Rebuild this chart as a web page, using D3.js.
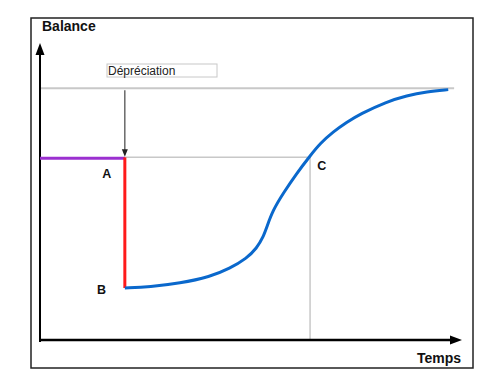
<!DOCTYPE html>
<html>
<head>
<meta charset="utf-8">
<script src="https://cdn.jsdelivr.net/npm/d3@7"></script>
<style>
  body { margin: 0; background: #fff; }
  text { font-family: "Liberation Sans", Arial, Helvetica, sans-serif; }
  .lbl { font-weight: bold; font-size: 12.5px; fill: #111; }
  .axisTitle { font-weight: bold; font-size: 14px; fill: #111; }
</style>
</head>
<body>
<div id="main"></div>
<script>
// values (time, balance)
const curveTime    = [2.02, 2.62, 3.33, 4.05, 4.52, 4.92, 5.16, 5.32, 5.40, 5.55, 5.79, 6.11, 6.43, 6.67, 6.98, 7.30, 7.62, 8.25, 8.73, 9.21, 9.72]
const curveBalance = [1.75, 1.79, 1.91, 2.13, 2.41, 2.75, 3.09, 3.48, 3.81, 4.38, 4.94, 5.61, 6.20, 6.62, 7.01, 7.33, 7.61, 8.02, 8.23, 8.36, 8.43]

const levelMax = 8.48   // top grey line
const levelA = 6.15     // balance before depreciation
const levelB = 1.75     // balance after depreciation
const timeA = 2.02
const timeC = 6.43
const timeEnd = 9.86

const pointLabels = [
  {name: "A", t: 1.48, b: 5.47},
  {name: "B", t: 1.36, b: 1.55},
  {name: "C", t: 6.60, b: 5.72}
]

const W = 488, H = 376

const svg = d3.select('#main').append('svg').attr("width", W).attr("height", H)

const x = d3.scaleLinear().domain([0, 10]).range([40, 460])
const y = d3.scaleLinear().domain([0, 10]).range([340, 43])

// frame
svg.append('rect').attr("x", 31).attr("y", 18).attr("width", 442).attr("height", 350)
  .attr("fill", "none").attr("stroke", "#222").attr("stroke-width", 1.5)

// grey reference lines
svg.append('line').attr("x1", x(0)).attr("x2", x(timeEnd)).attr("y1", y(levelMax)).attr("y2", y(levelMax))
  .attr("stroke", "#c8c8c8").attr("stroke-width", 2)
svg.append('line').attr("x1", x(timeA)).attr("x2", x(timeC)).attr("y1", y(levelA)).attr("y2", y(levelA))
  .attr("stroke", "#c8c8c8").attr("stroke-width", 1.5)
svg.append('line').attr("x1", x(timeC)).attr("x2", x(timeC)).attr("y1", y(levelA)).attr("y2", y(0))
  .attr("stroke", "#c8c8c8").attr("stroke-width", 1.5)

// axes
svg.append('line').attr("x1", x(0)).attr("x2", x(0)).attr("y1", y(0) + 2).attr("y2", y(10) + 10)
  .attr("stroke", "#000").attr("stroke-width", 2)
svg.append('path').attr("d", `M${x(0)},${y(10)} L${x(0) - 4.5},${y(10) + 12} L${x(0) + 4.5},${y(10) + 12}Z`)
  .attr("fill", "#000")
svg.append('line').attr("x1", x(0)).attr("x2", x(10) - 8).attr("y1", y(0)).attr("y2", y(0))
  .attr("stroke", "#000").attr("stroke-width", 2.5)
svg.append('path').attr("d", `M${x(10) + 2},${y(0)} L${x(10) - 10},${y(0) - 4.5} L${x(10) - 10},${y(0) + 4.5}Z`)
  .attr("fill", "#000")

svg.append('text').attr("class", "axisTitle").attr("x", 42).attr("y", 31).text("Balance")
svg.append('text').attr("class", "axisTitle").attr("x", 461).attr("y", 363).attr("text-anchor", "end").text("Temps")

// purple level, red drop
svg.append('line').attr("x1", x(0)).attr("x2", x(timeA)).attr("y1", y(levelA) + 1).attr("y2", y(levelA) + 1)
  .attr("stroke", "#9b30d0").attr("stroke-width", 3)
svg.append('line').attr("x1", x(timeA)).attr("x2", x(timeA)).attr("y1", y(levelA)).attr("y2", y(levelB))
  .attr("stroke", "#ff1a1a").attr("stroke-width", 3)

// blue recovery curve
const pts = curveTime.map((t, i) => [t, curveBalance[i]])
const line = d3.line().x(d => x(d[0])).y(d => y(d[1])).curve(d3.curveBasis)
svg.append('path').attr("d", line(pts)).attr("fill", "none")
  .attr("stroke", "#0a68cc").attr("stroke-width", 3).attr("stroke-linecap", "butt")

// depreciation label + arrow
svg.append('rect').attr("x", 107).attr("y", 64).attr("width", 110).attr("height", 13)
  .attr("fill", "#fff").attr("stroke", "#c8c8c8").attr("stroke-width", 1)
svg.append('text').attr("x", 108).attr("y", 74.5).attr("font-size", "12px").attr("fill", "#222").text("Dépréciation")
svg.append('line').attr("x1", x(timeA)).attr("x2", x(timeA)).attr("y1", y(levelMax) + 2).attr("y2", y(levelA) - 6)
  .attr("stroke", "#444").attr("stroke-width", 1.2)
svg.append('path').attr("d", `M${x(timeA)},${y(levelA) - 0.5} L${x(timeA) - 3},${y(levelA) - 8} L${x(timeA) + 3},${y(levelA) - 8}Z`)
  .attr("fill", "#222")

svg.selectAll(".pl").data(pointLabels).enter().append('text')
  .attr("class", "lbl").attr("x", d => x(d.t)).attr("y", d => y(d.b)).text(d => d.name)
</script>
</body>
</html>
